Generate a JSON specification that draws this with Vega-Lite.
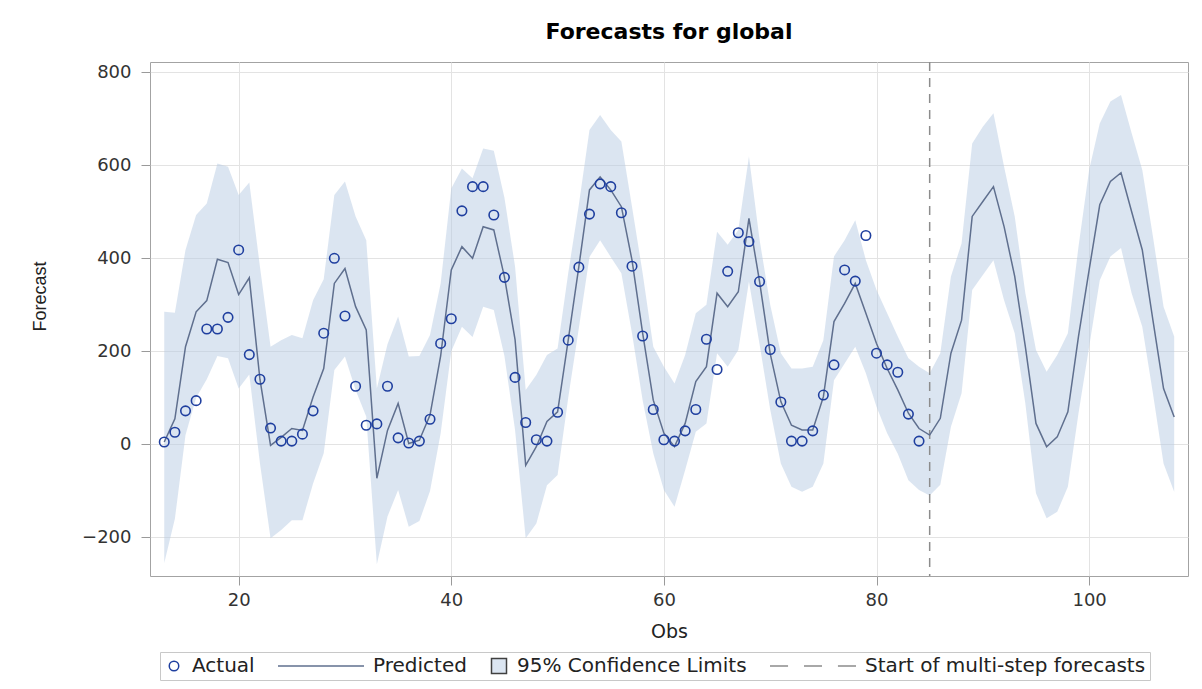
{
  "$schema": "https://vega.github.io/schema/vega-lite/v6.json",
  "width": 1038,
  "height": 514,
  "autosize": {"type": "none"},
  "padding": {"left": 150, "top": 62, "right": 14, "bottom": 113},
  "background": "white",
  "title": {"text": "Forecasts for global", "font": "DejaVu Sans", "fontSize": 22, "fontWeight": "bold", "color": "#000000", "anchor": "middle", "offset": 17},
  "config": {
    "view": {"stroke": "#a3a3a3", "strokeWidth": 1},
    "axis": {"labelFont": "DejaVu Sans", "labelFontSize": 18, "labelColor": "#333333", "gridColor": "#e3e3e3", "gridWidth": 1, "tickColor": "#9a9a9a", "tickSize": 9, "domain": false, "titleColor": "#222222", "titleFontWeight": "normal"}
  },
  "datasets": {
    "fc": [
      {"obs":13,"pred":5,"lo":-255,"hi":285},{"obs":14,"pred":55,"lo":-160,"hi":283},{"obs":15,"pred":210,"lo":20,"hi":418},{"obs":16,"pred":285,"lo":100,"hi":493},
      {"obs":17,"pred":309,"lo":140,"hi":518},{"obs":18,"pred":398,"lo":190,"hi":604},{"obs":19,"pred":391,"lo":185,"hi":597},{"obs":20,"pred":322,"lo":120,"hi":536},
      {"obs":21,"pred":358,"lo":150,"hi":563},{"obs":22,"pred":140,"lo":-40,"hi":382},{"obs":23,"pred":-2,"lo":-202,"hi":210},{"obs":24,"pred":15,"lo":-184,"hi":224},
      {"obs":25,"pred":34,"lo":-163,"hi":235},{"obs":26,"pred":30,"lo":-163,"hi":228},{"obs":27,"pred":102,"lo":-84,"hi":310},{"obs":28,"pred":163,"lo":-19,"hi":355},
      {"obs":29,"pred":346,"lo":160,"hi":536},{"obs":30,"pred":378,"lo":189,"hi":565},{"obs":31,"pred":296,"lo":117,"hi":490},{"obs":32,"pred":246,"lo":60,"hi":439},
      {"obs":33,"pred":-73,"lo":-258,"hi":120},{"obs":34,"pred":30,"lo":-155,"hi":215},{"obs":35,"pred":88,"lo":-98,"hi":275},{"obs":36,"pred":2,"lo":-177,"hi":189},
      {"obs":37,"pred":9,"lo":-165,"hi":190},{"obs":38,"pred":63,"lo":-100,"hi":235},{"obs":39,"pred":190,"lo":24,"hi":346},{"obs":40,"pred":375,"lo":200,"hi":550},
      {"obs":41,"pred":425,"lo":253,"hi":593},{"obs":42,"pred":400,"lo":231,"hi":572},{"obs":43,"pred":468,"lo":296,"hi":636},{"obs":44,"pred":461,"lo":289,"hi":631},
      {"obs":45,"pred":360,"lo":190,"hi":530},{"obs":46,"pred":225,"lo":31,"hi":382},{"obs":47,"pred":-45,"lo":-202,"hi":117},{"obs":48,"pred":-5,"lo":-170,"hi":149},
      {"obs":49,"pred":49,"lo":-88,"hi":192},{"obs":50,"pred":70,"lo":-66,"hi":206},{"obs":51,"pred":224,"lo":100,"hi":368},{"obs":52,"pred":382,"lo":250,"hi":515},
      {"obs":53,"pred":547,"lo":403,"hi":676},{"obs":54,"pred":575,"lo":439,"hi":708},{"obs":55,"pred":547,"lo":403,"hi":676},{"obs":56,"pred":511,"lo":368,"hi":651},
      {"obs":57,"pred":396,"lo":239,"hi":511},{"obs":58,"pred":239,"lo":95,"hi":368},{"obs":59,"pred":95,"lo":-19,"hi":210},{"obs":60,"pred":24,"lo":-98,"hi":167},
      {"obs":61,"pred":-5,"lo":-134,"hi":131},{"obs":62,"pred":45,"lo":-55,"hi":192},{"obs":63,"pred":135,"lo":27,"hi":282},{"obs":64,"pred":167,"lo":45,"hi":300},
      {"obs":65,"pred":325,"lo":196,"hi":457},{"obs":66,"pred":296,"lo":167,"hi":429},{"obs":67,"pred":328,"lo":203,"hi":461},{"obs":68,"pred":486,"lo":350,"hi":619},
      {"obs":69,"pred":350,"lo":215,"hi":440},{"obs":70,"pred":195,"lo":75,"hi":300},{"obs":71,"pred":92,"lo":-41,"hi":196},{"obs":72,"pred":41,"lo":-91,"hi":163},
      {"obs":73,"pred":31,"lo":-102,"hi":163},{"obs":74,"pred":31,"lo":-91,"hi":167},{"obs":75,"pred":102,"lo":-41,"hi":224},{"obs":76,"pred":264,"lo":138,"hi":404},
      {"obs":77,"pred":303,"lo":174,"hi":439},{"obs":78,"pred":346,"lo":210,"hi":482},{"obs":79,"pred":282,"lo":153,"hi":396},{"obs":80,"pred":217,"lo":81,"hi":332},
      {"obs":81,"pred":163,"lo":24,"hi":282},{"obs":82,"pred":117,"lo":-20,"hi":232},{"obs":83,"pred":67,"lo":-77,"hi":185},{"obs":84,"pred":34,"lo":-98,"hi":167},
      {"obs":85,"pred":20,"lo":-110,"hi":153},{"obs":86,"pred":56,"lo":-87,"hi":196},{"obs":87,"pred":196,"lo":38,"hi":361},{"obs":88,"pred":267,"lo":110,"hi":432},
      {"obs":89,"pred":490,"lo":332,"hi":647},{"obs":90,"pred":522,"lo":364,"hi":683},{"obs":91,"pred":554,"lo":396,"hi":712},{"obs":92,"pred":468,"lo":310,"hi":597},
      {"obs":93,"pred":361,"lo":239,"hi":490},{"obs":94,"pred":210,"lo":88,"hi":325},{"obs":95,"pred":45,"lo":-105,"hi":203},{"obs":96,"pred":-5,"lo":-159,"hi":156},
      {"obs":97,"pred":16,"lo":-145,"hi":192},{"obs":98,"pred":70,"lo":-91,"hi":239},{"obs":99,"pred":232,"lo":67,"hi":425},{"obs":100,"pred":375,"lo":210,"hi":590},
      {"obs":101,"pred":515,"lo":353,"hi":690},{"obs":102,"pred":565,"lo":404,"hi":737},{"obs":103,"pred":584,"lo":422,"hi":751},{"obs":104,"pred":500,"lo":325,"hi":669},
      {"obs":105,"pred":418,"lo":253,"hi":590},{"obs":106,"pred":267,"lo":110,"hi":447},{"obs":107,"pred":120,"lo":-41,"hi":296},{"obs":108,"pred":59,"lo":-102,"hi":232}
    ],
    "act": [
      {"obs":13,"actual":5,"series":"Actual"},{"obs":14,"actual":26,"series":"Actual"},{"obs":15,"actual":72,"series":"Actual"},{"obs":16,"actual":94,"series":"Actual"},
      {"obs":17,"actual":248,"series":"Actual"},{"obs":18,"actual":248,"series":"Actual"},{"obs":19,"actual":273,"series":"Actual"},{"obs":20,"actual":418,"series":"Actual"},
      {"obs":21,"actual":193,"series":"Actual"},{"obs":22,"actual":140,"series":"Actual"},{"obs":23,"actual":35,"series":"Actual"},{"obs":24,"actual":7,"series":"Actual"},
      {"obs":25,"actual":7,"series":"Actual"},{"obs":26,"actual":22,"series":"Actual"},{"obs":27,"actual":72,"series":"Actual"},{"obs":28,"actual":239,"series":"Actual"},
      {"obs":29,"actual":400,"series":"Actual"},{"obs":30,"actual":276,"series":"Actual"},{"obs":31,"actual":125,"series":"Actual"},{"obs":32,"actual":41,"series":"Actual"},
      {"obs":33,"actual":44,"series":"Actual"},{"obs":34,"actual":125,"series":"Actual"},{"obs":35,"actual":14,"series":"Actual"},{"obs":36,"actual":3,"series":"Actual"},
      {"obs":37,"actual":7,"series":"Actual"},{"obs":38,"actual":54,"series":"Actual"},{"obs":39,"actual":217,"series":"Actual"},{"obs":40,"actual":270,"series":"Actual"},
      {"obs":41,"actual":502,"series":"Actual"},{"obs":42,"actual":554,"series":"Actual"},{"obs":43,"actual":554,"series":"Actual"},{"obs":44,"actual":493,"series":"Actual"},
      {"obs":45,"actual":359,"series":"Actual"},{"obs":46,"actual":144,"series":"Actual"},{"obs":47,"actual":47,"series":"Actual"},{"obs":48,"actual":10,"series":"Actual"},
      {"obs":49,"actual":7,"series":"Actual"},{"obs":50,"actual":69,"series":"Actual"},{"obs":51,"actual":224,"series":"Actual"},{"obs":52,"actual":381,"series":"Actual"},
      {"obs":53,"actual":495,"series":"Actual"},{"obs":54,"actual":560,"series":"Actual"},{"obs":55,"actual":554,"series":"Actual"},{"obs":56,"actual":498,"series":"Actual"},
      {"obs":57,"actual":383,"series":"Actual"},{"obs":58,"actual":233,"series":"Actual"},{"obs":59,"actual":75,"series":"Actual"},{"obs":60,"actual":10,"series":"Actual"},
      {"obs":61,"actual":7,"series":"Actual"},{"obs":62,"actual":29,"series":"Actual"},{"obs":63,"actual":75,"series":"Actual"},{"obs":64,"actual":226,"series":"Actual"},
      {"obs":65,"actual":161,"series":"Actual"},{"obs":66,"actual":372,"series":"Actual"},{"obs":67,"actual":455,"series":"Actual"},{"obs":68,"actual":436,"series":"Actual"},
      {"obs":69,"actual":350,"series":"Actual"},{"obs":70,"actual":204,"series":"Actual"},{"obs":71,"actual":91,"series":"Actual"},{"obs":72,"actual":7,"series":"Actual"},
      {"obs":73,"actual":7,"series":"Actual"},{"obs":74,"actual":29,"series":"Actual"},{"obs":75,"actual":106,"series":"Actual"},{"obs":76,"actual":171,"series":"Actual"},
      {"obs":77,"actual":375,"series":"Actual"},{"obs":78,"actual":351,"series":"Actual"},{"obs":79,"actual":449,"series":"Actual"},{"obs":80,"actual":196,"series":"Actual"},
      {"obs":81,"actual":171,"series":"Actual"},{"obs":82,"actual":155,"series":"Actual"},{"obs":83,"actual":65,"series":"Actual"},{"obs":84,"actual":7,"series":"Actual"}
    ],
    "ref": [{"start": 85}]
  },
  "layer": [
    {
      "data": {"name": "fc"},
      "mark": {"type": "area", "fill": "#b8cbe3", "opacity": 0.5},
      "encoding": {
        "x": {"field": "obs", "type": "quantitative", "title": "Obs",
              "scale": {"domain": [11.66, 109.3], "nice": false, "zero": false},
              "axis": {"values": [20, 40, 60, 80, 100], "labelPadding": 6, "titlePadding": 13, "titleFont": "DejaVu Sans", "titleFontSize": 19, "grid": true}},
        "y": {"field": "lo", "type": "quantitative", "title": "Forecast",
              "scale": {"domain": [-283, 822], "nice": false, "zero": false},
              "axis": {"values": [-200, 0, 200, 400, 600, 800], "labelPadding": 10, "grid": true, "titleFont": "Liberation Sans", "titleFontSize": 18, "titleX": -110, "titleY": 234, "titleAngle": -90, "titleAlign": "center", "titleBaseline": "middle"}},
        "y2": {"field": "hi"}
      }
    },
    {
      "data": {"name": "ref"},
      "mark": {"type": "rule", "color": "#8c8c8c", "strokeDash": [9, 7], "strokeWidth": 1.5},
      "encoding": {"x": {"field": "start", "type": "quantitative", "title": "Obs"}}
    },
    {
      "data": {"name": "fc"},
      "mark": {"type": "line", "color": "#5f6f8e", "strokeWidth": 1.5},
      "encoding": {
        "x": {"field": "obs", "type": "quantitative", "title": "Obs"},
        "y": {"field": "pred", "type": "quantitative", "title": "Forecast"}
      }
    },
    {
      "data": {"name": "act"},
      "mark": {"type": "point", "strokeWidth": 1.6, "opacity": 1},
      "encoding": {
        "x": {"field": "obs", "type": "quantitative", "title": "Obs"},
        "y": {"field": "actual", "type": "quantitative", "title": "Forecast"},
        "stroke": {"field": "series", "type": "nominal",
          "scale": {"domain": ["Actual", "Predicted", "95% Confidence Limits", "Start of multi-step forecasts"], "range": ["#1f3f9f", "#5f6f8e", "#404040", "#8c8c8c"]},
          "legend": {"title": null, "orient": "none", "legendX": 10, "legendY": 590, "direction": "horizontal", "clipHeight": 20,
            "labelFont": "DejaVu Sans", "labelFontSize": 20, "labelColor": "#222222", "labelOffset": 8, "labelLimit": 500,
            "columnPadding": 22, "padding": 4, "strokeColor": "#c8c8c8", "symbolStrokeWidth": 1.5}},
        "fill": {"field": "series", "type": "nominal",
          "scale": {"domain": ["Actual", "Predicted", "95% Confidence Limits", "Start of multi-step forecasts"], "range": ["transparent", "transparent", "#dbe5f1", "transparent"]}},
        "shape": {"field": "series", "type": "nominal",
          "scale": {"domain": ["Actual", "Predicted", "95% Confidence Limits", "Start of multi-step forecasts"], "range": ["circle", "M-1,0H1", "square", "M-1,0H-0.58M-0.21,0H0.21M0.58,0H1"]}},
        "size": {"field": "series", "type": "nominal",
          "scale": {"type": "ordinal", "domain": ["Actual", "Predicted", "95% Confidence Limits", "Start of multi-step forecasts"], "range": [90, 7396, 225, 7396]}}
      }
    }
  ]
}
